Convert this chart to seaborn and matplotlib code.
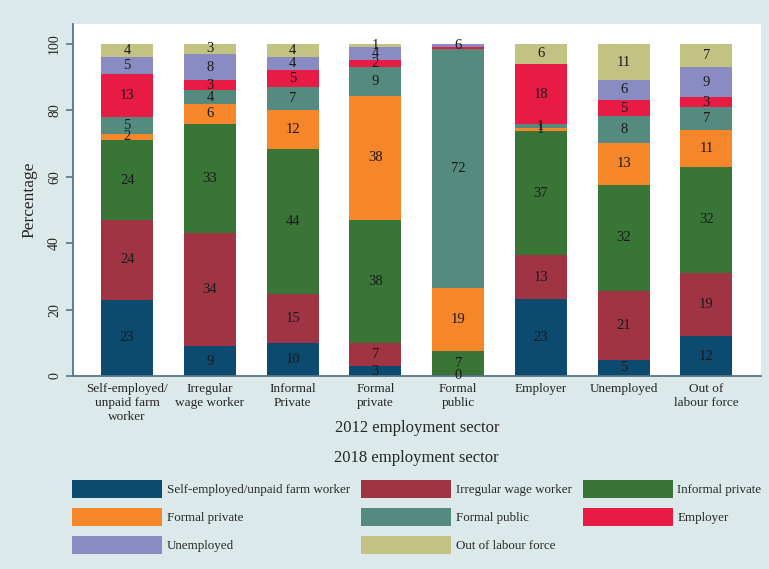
import numpy as np
import pandas as pd
import matplotlib.pyplot as plt
from matplotlib.patches import Patch
import seaborn as sns

# 2012 employment sector (bars)
sectors_2012 = ["Self-employed/\nunpaid farm\nworker", "Irregular\nwage worker", "Informal\nPrivate",
                "Formal\nprivate", "Formal\npublic", "Employer", "Unemployed", "Out of\nlabour force"]

# 2018 employment sector (stacked segments), values in percent
series_names = ["Self-employed/unpaid farm worker", "Irregular wage worker", "Informal private",
                "Formal private", "Formal public", "Employer", "Unemployed", "Out of labour force"]
self_employed = [23, 9, 10, 3, 0, 23, 5, 12]
irregular = [24, 34, 15, 7, 0.4, 13, 21, 19]
informal_private = [24, 33, 44, 38, 7, 37, 32, 32]
formal_private = [2, 6, 12, 38, 19, 1, 13, 11]
formal_public = [5, 4, 7, 9, 72, 1, 8, 7]
employer = [13, 3, 5, 2, 0.6, 18, 5, 3]
unemployed = [5, 8, 4, 4, 1, 0, 6, 9]
out_of_lf = [4, 3, 4, 1, 0, 6, 11, 7]

# labels as printed where they differ from the rounded value ("" = no label)
label_overrides = {(0, 4): "", (5, 4): "", (6, 4): "6", (7, 4): "", (6, 5): ""}

colors = ["#0d4a70", "#a13443", "#3a7538", "#f5862a", "#558b7f", "#e81b45", "#8b8bc3", "#c2c283"]

series = [self_employed, irregular, informal_private, formal_private,
          formal_public, employer, unemployed, out_of_lf]

vals = np.array(series, dtype=float)
shares = vals / vals.sum(axis=0) * 100  # each bar adds to 100
cum = np.cumsum(shares, axis=0)

bg = "#dce9ea"
spine_c = "#557685"

sns.set_style("white")
plt.rcParams["font.family"] = ["Liberation Serif", "DejaVu Serif"]

fig = plt.figure(figsize=(7.69, 5.69), dpi=100, facecolor=bg)
ax = fig.add_axes([0.0949, 0.3392, 0.8947, 0.6186])
ax.set_facecolor("white")

# stacked bars: draw cumulative totals from the top layer down
for i in range(len(series) - 1, -1, -1):
    df = pd.DataFrame({"sector": sectors_2012, "value": cum[i]})
    sns.barplot(data=df, x="sector", y="value", color=colors[i], saturation=1,
                width=0.63, linewidth=0, ax=ax)

# segment labels
for i in range(len(series)):
    for j in range(len(sectors_2012)):
        txt = label_overrides.get((i, j), str(int(round(vals[i, j]))))
        if txt == "":
            continue
        ymid = cum[i, j] - shares[i, j] / 2
        ax.text(j, ymid, txt, ha="center", va="center", fontsize=10.5, color="#1a1a1a")

ax.set_xlim(-0.655, 7.66)
ax.set_ylim(0, 106)
ax.set_yticks([0, 20, 40, 60, 80, 100])
ax.tick_params(axis="y", labelsize=10, rotation=90, length=5, width=1.2, color=spine_c, left=True)
for lab in ax.get_yticklabels():
    lab.set_va("center")
ax.tick_params(axis="x", labelsize=9.5, length=0, pad=5)
ax.set_ylabel("Percentage", fontsize=12.5, labelpad=8)
ax.set_xlabel("2012 employment sector", fontsize=12, va="center")
ax.xaxis.set_label_coords(0.5, -52 / 352)

for s in ["top", "right"]:
    ax.spines[s].set_visible(False)
for s in ["left", "bottom"]:
    ax.spines[s].set_color(spine_c)
    ax.spines[s].set_linewidth(1.3)

fig.text(0.542, 1 - 458 / 569, "2018 employment sector", ha="center", va="center", fontsize=12)

# legend filled row by row, like the reference
order = [0, 3, 6, 1, 4, 7, 2, 5]
handles = [Patch(facecolor=colors[k], edgecolor="none") for k in order]
labels = [series_names[k] for k in order]
fig.legend(handles, labels, ncol=3, loc="upper left",
           bbox_to_anchor=(72 / 769, 1 - 480 / 569), frameon=False, borderpad=0,
           borderaxespad=0, fontsize=9.4, handlelength=6.9, handleheight=1.75,
           handletextpad=0.35, columnspacing=0.85, labelspacing=0.75)

fig.savefig("out.png", dpi=100, facecolor=bg)
plt.close()
